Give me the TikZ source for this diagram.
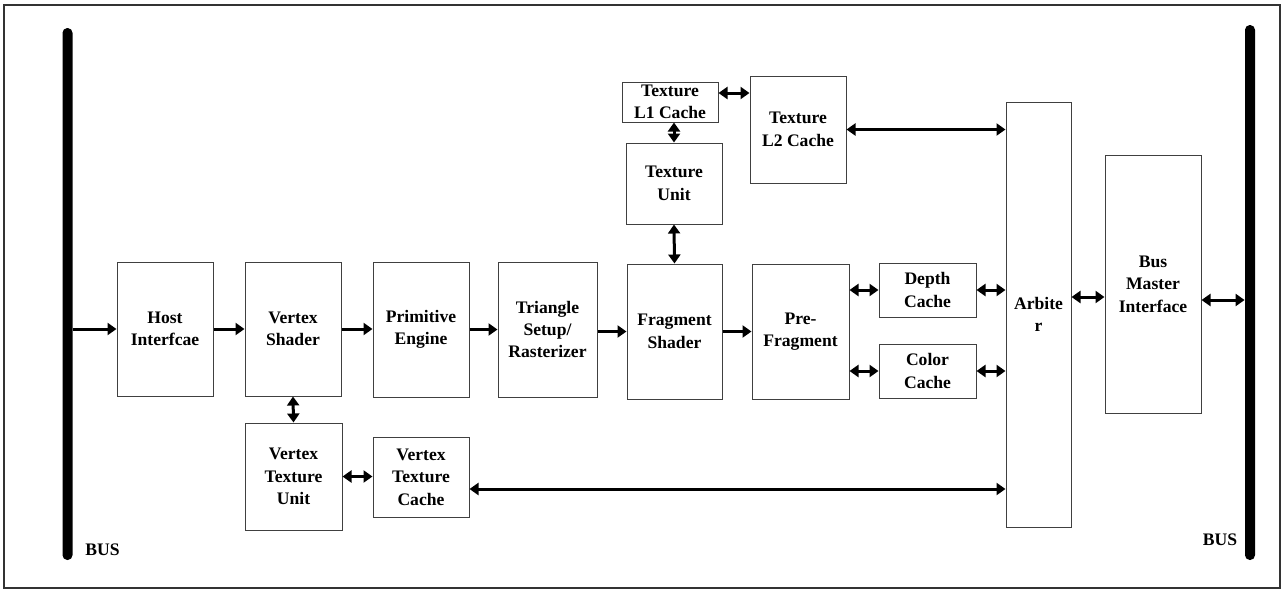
\documentclass[tikz,border=0pt]{standalone}
\usepackage{fontspec}
\setmainfont{Liberation Serif}
\usetikzlibrary{arrows.meta}

\tikzset{
  hwblock/.style={draw=black!75, line width=.5pt, align=center, inner sep=1pt,
    font=\fontsize{8.8}{11.2}\selectfont\bfseries},
  hwbus/.style={fill=black, rounded corners=2.4pt, inner sep=0pt, minimum width=5pt},
  hwflow/.style={line width=1.5pt, -{Triangle[length=4.5pt,width=6pt]}},
  hwlink/.style={line width=1.5pt, {Triangle[length=4.5pt,width=6pt]}-{Triangle[length=4.5pt,width=6pt]}},
  hwlabel/.style={font=\fontsize{8.8}{11.2}\selectfont\bfseries, inner sep=0pt}
}

\begin{document}
\begin{tikzpicture}[x=.5pt, y=-.5pt]
\useasboundingbox (0,0) rectangle (1282,591);
\draw[black!80, line width=.6pt] (4,5) rectangle (1280,588);

\node[hwbus, minimum height=266pt] (lbus) at (67.5,294) {};
\node[hwbus, minimum height=267.5pt] (rbus) at (1250,292.5) {};
\node[hwlabel] (lbuslabel) at (102.5,550) {BUS};
\node[hwlabel] (rbuslabel) at (1220,540) {BUS};

\node[hwblock, minimum width=48pt, minimum height=67pt] (host) at (165,329) {Host\\Interfcae};
\node[hwblock, minimum width=48pt, minimum height=67pt] (vshader) at (293,329) {Vertex\\Shader};
\node[hwblock, minimum width=48pt, minimum height=67.5pt] (prim) at (421,329.5) {Primitive\\Engine};
\node[hwblock, minimum width=49.5pt, minimum height=67.5pt] (tsetup) at (547.5,329.5) {Triangle\\Setup/\\Rasterizer};
\node[hwblock, minimum width=47.5pt, minimum height=67.5pt] (fshader) at (674.5,331.5) {Fragment\\Shader};
\node[hwblock, minimum width=48.5pt, minimum height=67.5pt] (prefrag) at (800.5,331.5) {Pre-\\Fragment};
\node[hwblock, minimum width=48.5pt, minimum height=27pt] (depth) at (927.5,290) {Depth\\Cache};
\node[hwblock, minimum width=48.5pt, minimum height=27pt] (color) at (927.5,371) {Color\\Cache};
\node[hwblock, minimum width=32.5pt, minimum height=212.5pt] (arbiter) at (1038.5,314.5) {Arbite\\r};
\node[hwblock, minimum width=48pt, minimum height=129pt] (bmi) at (1153,284) {Bus\\Master\\Interface};
\node[hwblock, minimum width=48pt, minimum height=20pt] (texl1) at (670,102) {Texture\\L1 Cache};
\node[hwblock, minimum width=48pt, minimum height=53.5pt] (texl2) at (798,129.5) {Texture\\L2 Cache};
\node[hwblock, minimum width=48pt, minimum height=40.5pt] (texunit) at (674,183.5) {Texture\\Unit};
\node[hwblock, minimum width=48.5pt, minimum height=53.5pt] (vtexunit) at (293.5,476.5) {Vertex\\Texture\\Unit};
\node[hwblock, minimum width=48pt, minimum height=40pt] (vtexcache) at (421,477) {Vertex\\Texture\\Cache};

\draw[hwflow] (lbus.east |- host) -- (host);
\draw[hwflow] (host) -- (vshader);
\draw[hwflow] (vshader) -- (vshader -| prim.west);
\draw[hwflow] (prim) -- (prim -| tsetup.west);
\draw[hwflow] (tsetup.east |- fshader) -- (fshader);
\draw[hwflow] (fshader) -- (prefrag);

\draw[hwlink] (vshader.south) -- (vtexunit.north);
\draw[hwlink] (vtexunit.east) -- (vtexunit.east -| vtexcache.west);
\draw[hwlink] ([yshift=-6pt]vtexcache.east) -- ([yshift=-6pt]vtexcache.east -| arbiter.west);
\draw[hwlink] ([yshift=4.5pt]texl1.east) -- ([yshift=4.5pt]texl1.east -| texl2.west);
\draw[hwlink] (texunit.north |- texl1.south) -- (texunit.north);
\draw[hwlink] (texunit.south) -- (fshader.north);
\draw[hwlink] (texl2.east) -- (texl2.east -| arbiter.west);
\draw[hwlink] (prefrag.east |- depth) -- (depth.west);
\draw[hwlink] (prefrag.east |- color) -- (color.west);
\draw[hwlink] (depth.east) -- (depth.east -| arbiter.west);
\draw[hwlink] (color.east) -- (color.east -| arbiter.west);
\draw[hwlink] ([yshift=-6.5pt]bmi.west) -- ([yshift=-6.5pt]bmi.west -| arbiter.east);
\draw[hwlink] ([yshift=-8pt]bmi.east) -- ([yshift=-8pt]bmi.east -| rbus.west);
\end{tikzpicture}
\end{document}
